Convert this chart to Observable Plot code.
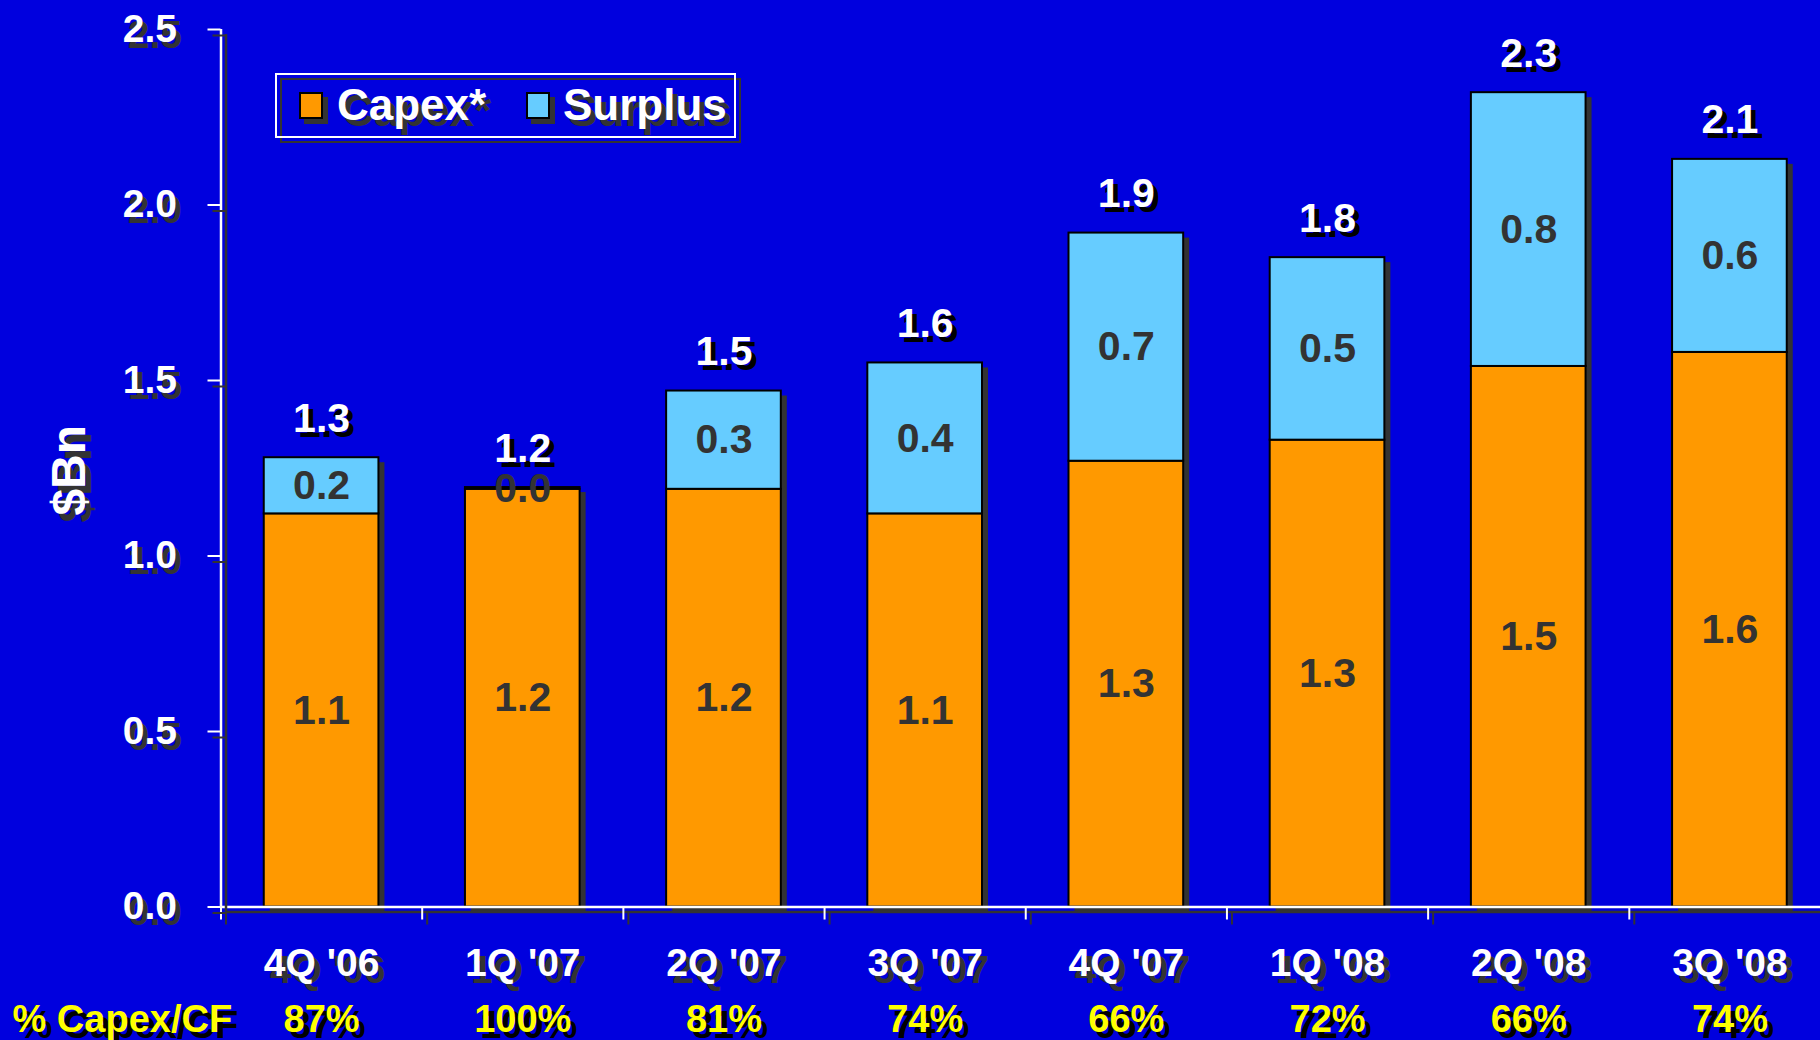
<!DOCTYPE html>
<html>
<head>
<meta charset="utf-8">
<script src="https://cdn.jsdelivr.net/npm/d3@7"></script>
<script src="https://cdn.jsdelivr.net/npm/@observablehq/plot@0.6"></script>
<style>
  html, body { margin: 0; padding: 0; background: #0000DE; overflow: hidden; }
  #wrap { position: relative; width: 1820px; height: 1040px; overflow: hidden; background: #0000DE;
          font-family: "Liberation Sans", Arial, sans-serif; }
  #chart { position: absolute; left: 0; top: 0; width: 1830px; height: 1040px; }
  #chart svg { max-width: none !important; width: 1830px !important; height: 1040px !important; }
  .lgbox { position: absolute; width: 457px; height: 61px; box-sizing: content-box; }
  #lgShadow { left: 280px; top: 78px; border: 2px solid #333; }
  #lgBox { left: 275px; top: 73px; border: 2px solid #fff; }
  .sw { position: absolute; width: 20px; height: 23px; border: 2px solid #000; }
  .swsh { position: absolute; width: 24px; height: 27px; background: #333; }
  .lt { position: absolute; font-size: 44px; font-weight: bold; color: #fff; line-height: 44px;
        text-shadow: 5px 6px 0 #333; white-space: nowrap; }
</style>
</head>
<body>
<div id="wrap">
  <div id="chart"></div>
  <div id="lgShadow" class="lgbox"></div>
  <div id="lgBox" class="lgbox"></div>
  <div id="legendItems"></div>
</div>
<script>
// ---------- data ----------
const quarters = ["4Q '06", "1Q '07", "2Q '07", "3Q '07", "4Q '07", "1Q '08", "2Q '08", "3Q '08"];
const capex    = [1.12, 1.19, 1.19, 1.12, 1.27, 1.33, 1.54, 1.58];
const surplus  = [0.16, 0.005, 0.28, 0.43, 0.65, 0.52, 0.78, 0.55];
const capexLabels   = ["1.1", "1.2", "1.2", "1.1", "1.3", "1.3", "1.5", "1.6"];
const surplusLabels = ["0.2", "0.0", "0.3", "0.4", "0.7", "0.5", "0.8", "0.6"];
const totalLabels   = ["1.3", "1.2", "1.5", "1.6", "1.9", "1.8", "2.3", "2.1"];
const capexPctCF    = ["87%", "100%", "81%", "74%", "66%", "72%", "66%", "74%"];
const pctRowTitle   = "% Capex/CF";
const yTicks = [0, 0.5, 1.0, 1.5, 2.0, 2.5];
const yTitle = "$Bn";
const seriesNames  = ["Capex*", "Surplus"];
const seriesColors = ["#FF9900", "#66CCFF"];

// ---------- tables ----------
const rows = quarters.map((q, i) => ({
  q, capex: capex[i], surplus: surplus[i], total: capex[i] + surplus[i],
  cl: capexLabels[i], sl: surplusLabels[i], tl: totalLabels[i], pct: capexPctCF[i]
}));
const long = rows.flatMap(r => [
  {q: r.q, series: seriesNames[0], value: r.capex},
  {q: r.q, series: seriesNames[1], value: r.surplus}
]);

// ---------- layout ----------
const W = 1830, H = 1040, ML = 220.5, MR = 0, MT = 29, MB = 133.5;
const step = (W - ML - MR) / quarters.length;
const font = "Liberation Sans, Arial, sans-serif";

function shadowText(data, opts, color, shadowColor, off) {
  return [
    Plot.text(data, {...opts, fill: shadowColor, dx: (opts.dx || 0) + off[0], dy: (opts.dy || 0) + off[1]}),
    Plot.text(data, {...opts, fill: color})
  ];
}

const chart = Plot.plot({
  width: W, height: H,
  marginLeft: ML, marginRight: MR, marginTop: MT, marginBottom: MB,
  style: {background: "transparent", color: "white", fontFamily: font, overflow: "visible", maxWidth: "none"},
  x: {domain: quarters, paddingInner: 0.43, paddingOuter: 0.215, round: false, axis: null},
  y: {domain: [0, 2.5], axis: null},
  color: {domain: seriesNames, range: seriesColors},
  marks: [
    // bar shadows
    Plot.barY(rows, {x: "q", y: "total", fill: "#333", dx: 6, dy: 5}),
    // stacked bars
    Plot.barY(long, {x: "q", y: "value", fill: "series", stroke: "black", strokeWidth: 2}),
    // x axis line + shadow
    Plot.ruleY([0], {stroke: "#333", strokeWidth: 2.5, dx: 5, dy: 5}),
    Plot.ruleY([0], {stroke: "white", strokeWidth: 2.5}),
    // category boundary ticks + shadow
    Plot.ruleX(quarters, {x: d => d, y1: 0, y2: 0, insetBottom: -13, dx: -step / 2 + 5, dy: 5, stroke: "#333", strokeWidth: 2}),
    Plot.ruleX(quarters, {x: d => d, y1: 0, y2: 0, insetBottom: -13, dx: -step / 2, stroke: "white", strokeWidth: 2}),
    // y axis line + shadow
    Plot.ruleX([quarters[0]], {x: d => d, y1: 0, y2: 2.5, dx: -step / 2 + 5, dy: 5, stroke: "#333", strokeWidth: 2.5}),
    Plot.ruleX([quarters[0]], {x: d => d, y1: 0, y2: 2.5, dx: -step / 2, stroke: "white", strokeWidth: 2.5}),
    // y axis ticks & labels (shadow, then white)
    Plot.axisY({ticks: yTicks, tickSize: 13, tickPadding: 31, tickFormat: d3.format(".1f"),
      stroke: "#333", fill: "#333", strokeWidth: 2, dx: 5, dy: 6, fontSize: 39, fontWeight: "bold", fontFamily: font}),
    Plot.axisY({ticks: yTicks, tickSize: 13, tickPadding: 31, tickFormat: d3.format(".1f"),
      stroke: "white", fill: "white", strokeWidth: 2, fontSize: 39, fontWeight: "bold", fontFamily: font}),
    // inner segment labels
    Plot.text(rows, {x: "q", y: d => d.capex / 2, text: "cl", fill: "#333", fontSize: 41, fontWeight: "bold", fontFamily: font}),
    Plot.text(rows, {x: "q", y: d => d.capex + d.surplus / 2, text: "sl", fill: "#333", fontSize: 41, fontWeight: "bold", fontFamily: font}),
    // totals
    ...shadowText(rows, {x: "q", y: "total", dy: -39, text: "tl", fontSize: 41, fontWeight: "bold", fontFamily: font}, "white", "black", [5, 5]),
    // category labels
    ...shadowText(rows, {x: "q", y: 0, dy: 57, text: "q", fontSize: 39, fontWeight: "bold", fontFamily: font}, "white", "#333", [6, 7]),
    // % Capex/CF row
    ...shadowText(rows, {x: "q", y: 0, dy: 112.5, text: "pct", fontSize: 38, fontWeight: "bold", fontFamily: font}, "#FFFF00", "black", [6, 6]),
    ...shadowText([pctRowTitle], {frameAnchor: "bottom-left", textAnchor: "start", lineAnchor: "middle", dx: -208.5, dy: 112.5, text: d => d, fontSize: 38, fontWeight: "bold", fontFamily: font}, "#FFFF00", "black", [6, 6]),
    // y title
    ...shadowText([yTitle], {frameAnchor: "left", textAnchor: "middle", lineAnchor: "middle", rotate: -90, dx: -151, dy: 2, text: d => d, fontSize: 48, fontWeight: "bold", fontFamily: font}, "white", "#333", [6, 7])
  ]
});
document.getElementById("chart").appendChild(chart);

// ---------- legend ----------
const legendPos = [{sw: 299, tx: 337}, {sw: 526, tx: 563}];
const li = document.getElementById("legendItems");
seriesNames.forEach((name, i) => {
  const sh = document.createElement("div");
  sh.className = "swsh";
  sh.style.left = (legendPos[i].sw + 5) + "px"; sh.style.top = (92 + 5) + "px";
  li.appendChild(sh);
  const sw = document.createElement("div");
  sw.className = "sw";
  sw.style.left = legendPos[i].sw + "px"; sw.style.top = "92px";
  sw.style.background = seriesColors[i];
  li.appendChild(sw);
  const t = document.createElement("div");
  t.className = "lt";
  t.style.left = legendPos[i].tx + "px"; t.style.top = "83px";
  t.textContent = name;
  li.appendChild(t);
});
</script>
</body>
</html>
